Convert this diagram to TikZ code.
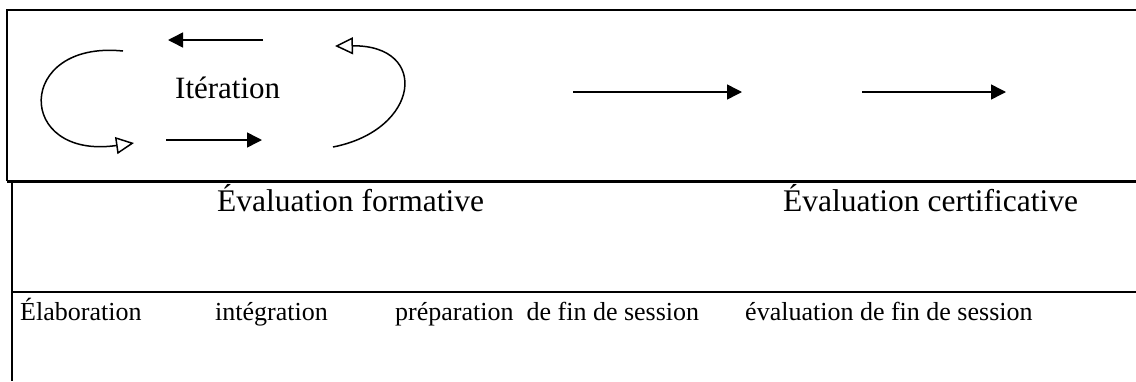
\documentclass[tikz,border=0pt]{standalone}
\usepackage{fontspec}
\setmainfont{Liberation Serif}
\usetikzlibrary{arrows.meta}
\begin{document}
\begin{tikzpicture}[x=1pt,y=-1pt,
  frame/.style={line width=2pt},
  thickframe/.style={line width=3pt},
  arr/.style={line width=1.5pt,-{Triangle[length=15pt,width=15pt]}},
  loopar/.style={line width=1.5pt,-{Triangle[open,length=18pt,width=17pt,line width=1.5pt]}},
  bigtxt/.style={anchor=base west,inner sep=0pt,font=\fontsize{31.5}{38}\selectfont},
  itertxt/.style={anchor=base west,inner sep=0pt,font=\fontsize{31}{37}\selectfont},
  smalltxt/.style={anchor=base west,inner sep=0pt,font=\fontsize{26}{31}\selectfont}]
\useasboundingbox (0,0) rectangle (1136,381);
% frame lines
\coordinate (tl) at (7,10);
\coordinate (tr) at (1136,10);
\coordinate (ml) at (7,181);
\coordinate (mr) at (1136,181);
\coordinate (vl1) at (12,181);
\coordinate (vl2) at (12,381);
\coordinate (ll) at (12,292);
\coordinate (lr) at (1136,292);
\draw[frame] (tr) -- (tl) -- (ml);
\draw[thickframe] (ml) -- (mr);
\draw[frame] (vl1) -- (vl2);
\draw[frame] (ll) -- (lr);
% iteration
\node[itertxt] (iter) at (175,98) {Itération};
\coordinate (a1s) at (263,40);
\coordinate (a1e) at (168,40);
\coordinate (a2s) at (166,140);
\coordinate (a2e) at (262,140);
\draw[arr] (a1s) -- (a1e);
\draw[arr] (a2s) -- (a2e);
\coordinate (c1s) at (123,51);
\coordinate (c1e) at (134,143);
\draw[loopar] (c1s) .. controls (15,40) and (15,160) .. (c1e);
\coordinate (c2s) at (333,147);
\coordinate (c2e) at (335,46);
\draw[loopar] (c2s) .. controls (420,130) and (430,45) .. (c2e);
% right arrows
\coordinate (r1s) at (573,92);
\coordinate (r1e) at (742,92);
\coordinate (r2s) at (862,92);
\coordinate (r2e) at (1006,92);
\draw[arr] (r1s) -- (r1e);
\draw[arr] (r2s) -- (r2e);
% texts
\node[bigtxt] (ef) at (217,211) {Évaluation formative};
\node[bigtxt] (ec) at (783,211) {Évaluation certificative};
\node[smalltxt] (t1) at (20,320) {Élaboration};
\node[smalltxt] (t2) at (215,320) {intégration};
\node[smalltxt] (t3) at (395,320) {préparation\hspace{13pt}de fin de session};
\node[smalltxt] (t4) at (745,320) {évaluation de fin de session};
\end{tikzpicture}
\end{document}
